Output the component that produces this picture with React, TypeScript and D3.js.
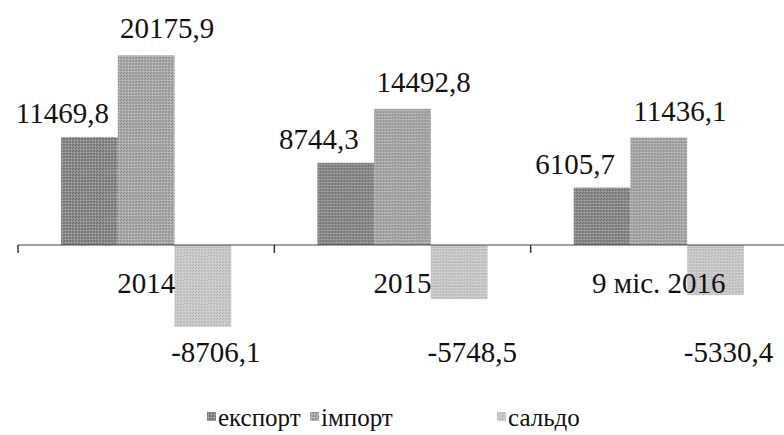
import React from 'react';
import * as d3 from 'd3';

const categories = ['2014', '2015', '9 міс. 2016'];
const seriesNames = ['експорт', 'імпорт', 'сальдо'];
const exportValues = [11469.8, 8744.3, 6105.7];
const importValues = [20175.9, 14492.8, 11436.1];
const saldoValues = [-8706.1, -5748.5, -5330.4];

const seriesValues = [exportValues, importValues, saldoValues];
const fills = ['#8c8c8c', '#aaaaaa', '#cbcbcb'];
const dots = ['#6a6a6a', '#8a8a8a', '#b0b0b0'];

const W = 784;
const H = 435;
const txt: React.CSSProperties = { fontFamily: "'Liberation Serif'" };

// кома як десятковий роздільник, звичайний дефіс для мінуса
const fmt = d3
  .formatLocale({ decimal: ',', thousands: '', grouping: [3], currency: ['', ''], minus: '-' })
  .format('.1f');

const App = () => {
  const x0 = d3.scaleBand<string>().domain(categories).range([18, 787]).paddingInner(0.336).paddingOuter(0.168);
  const x1 = d3.scaleBand<string>().domain(seriesNames).range([0, x0.bandwidth()]);
  const y = d3.scaleLinear().domain([-10000, 22000]).range([339, 38.2]);
  const zero = y(0);

  // межі категорій для рисок осі
  const step = x0.step();
  const tickXs = d3.range(categories.length).map((i) => 18 + i * step);

  const labelDx = [-27, 21, 13];

  return (
    <svg width={W} height={H} style={{ position: 'absolute', left: 0, top: 0, background: '#fff' }}>
      <defs>
        {fills.map((c, i) => (
          <pattern key={i} id={`p${i}`} width={3} height={3} patternUnits="userSpaceOnUse">
            <rect width={3} height={3} fill={c} />
            <rect x={0} y={0} width={1} height={1} fill={dots[i]} />
            <rect x={2} y={1} width={1} height={1} fill={dots[i]} />
            <rect x={1} y={2} width={1} height={1} fill="#e0e0e0" opacity={0.5} />
          </pattern>
        ))}
      </defs>

      {categories.map((cat, ci) => (
        <g key={cat} transform={`translate(${x0(cat)},0)`}>
          {seriesNames.map((s, si) => {
            const v = seriesValues[si][ci];
            const top = Math.min(y(v), zero);
            return (
              <rect
                key={s}
                x={x1(s)}
                y={top}
                width={x1.bandwidth()}
                height={Math.abs(y(v) - zero)}
                fill={`url(#p${si})`}
              />
            );
          })}
        </g>
      ))}

      {/* вісь */}
      <line x1={18} x2={W} y1={zero} y2={zero} stroke="#444" strokeWidth={1.2} />
      {tickXs.map((t) => (
        <line key={t} x1={t} x2={t} y1={zero} y2={zero + 8} stroke="#333" strokeWidth={1.5} />
      ))}

      {/* підписи значень */}
      {categories.map((cat, ci) =>
        seriesNames.map((s, si) => {
          const v = seriesValues[si][ci];
          const cx = (x0(cat) as number) + (x1(s) as number) + x1.bandwidth() / 2 + labelDx[si];
          const ty = v >= 0 ? y(v) - (si === 0 ? 14 : 17) : y(-10000) + 23;
          return (
            <text key={cat + s} x={cx} y={ty} textAnchor="middle" fontSize={29} fill="#111" style={txt}>
              {fmt(v)}
            </text>
          );
        })
      )}

      {/* підписи категорій */}
      {categories.map((cat) => (
        <text
          key={cat}
          x={(x0(cat) as number) + x0.bandwidth() / 2}
          y={zero + 48}
          textAnchor="middle"
          fontSize={29}
          fill="#111"
          style={txt}
        >
          {cat}
        </text>
      ))}

      {/* легенда */}
      <g transform="translate(207,412)">
        {seriesNames.map((s, i) => {
          const lx = [0, 103, 290][i];
          return (
            <g key={s} transform={`translate(${lx},0)`}>
              <rect x={0} y={0} width={9} height={9} fill={`url(#p${i})`} />
              <text x={11} y={14} fontSize={25} fill="#111" style={txt}>
                {s}
              </text>
            </g>
          );
        })}
      </g>
    </svg>
  );
};

export default App;
